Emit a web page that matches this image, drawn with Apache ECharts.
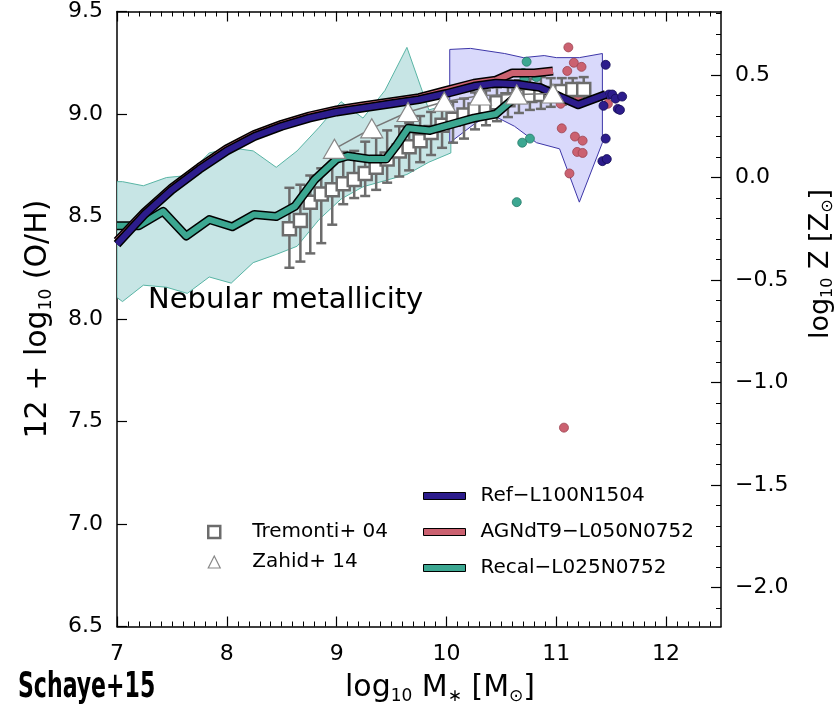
<!DOCTYPE html>
<html>
<head>
<meta charset="utf-8">
<script src="https://cdn.jsdelivr.net/npm/echarts@6/dist/echarts.min.js"></script>
<style>
  html, body { margin: 0; padding: 0; background: #fff; }
  #chart { width: 840px; height: 712px; }
</style>
</head>
<body>
<div id="chart"></div>
<script>
// solar oxygen abundance, links the two y axes
const zSun = 8.69;

// Ref-L100N1504 median
const refMass = [7.0, 7.25, 7.5, 7.75, 8.0, 8.25, 8.5, 8.75, 9.0, 9.25, 9.5, 9.75, 10.0, 10.25, 10.45, 10.65, 10.85, 11.05, 11.2, 11.45];
const refOH = [8.365, 8.51, 8.63, 8.73, 8.82, 8.89, 8.94, 8.98, 9.01, 9.03, 9.05, 9.07, 9.10, 9.135, 9.15, 9.145, 9.13, 9.08, 9.045, 9.095];

// AGNdT9-L050N0752 median
const agnMass = [7.0, 7.25, 7.5, 7.75, 8.0, 8.25, 8.5, 8.75, 9.0, 9.25, 9.5, 9.75, 10.0, 10.25, 10.45, 10.6, 10.8, 10.97];
const agnOH = [8.38, 8.52, 8.64, 8.74, 8.83, 8.90, 8.95, 8.99, 9.02, 9.04, 9.06, 9.08, 9.115, 9.15, 9.165, 9.20, 9.20, 9.21];

// Recal-L025N0752 median
const recalMass = [7.0, 7.2, 7.42, 7.63, 7.84, 8.05, 8.25, 8.45, 8.62, 8.8, 9.0, 9.1, 9.3, 9.45, 9.55, 9.65, 9.85, 10.05, 10.25, 10.45, 10.58, 10.67];
const recalOH = [8.455, 8.455, 8.525, 8.405, 8.485, 8.45, 8.51, 8.50, 8.55, 8.68, 8.78, 8.795, 8.78, 8.78, 8.85, 8.93, 8.92, 8.95, 8.98, 9.0, 9.06, 9.10];

// Recal scatter band
const recalBandMass = [7.0, 7.05, 7.24, 7.45, 7.64, 7.84, 8.04, 8.24, 8.45, 8.64, 8.84, 9.04, 9.24, 9.44, 9.64, 9.84, 10.04];
const recalBandHi = [8.67, 8.67, 8.65, 8.69, 8.70, 8.81, 8.835, 8.82, 8.74, 8.82, 8.935, 9.06, 8.98, 9.115, 9.325, 9.02, 9.05];
const recalBandLo = [8.105, 8.085, 8.165, 8.155, 8.125, 8.205, 8.175, 8.275, 8.315, 8.355, 8.485, 8.585, 8.645, 8.675, 8.705, 8.765, 8.81];

// Ref scatter band
const refBandHiMass = [10.03, 10.22, 10.53, 10.7, 10.89, 11.0, 11.21, 11.42];
const refBandHi = [9.315, 9.32, 9.295, 9.275, 9.285, 9.275, 9.275, 9.295];
const refBandLoMass = [10.03, 10.25, 10.4, 10.62, 10.82, 11.03, 11.21, 11.42];
const refBandLo = [8.86, 8.95, 9.0, 8.94, 8.86, 8.83, 8.57, 8.86];

// individual galaxies in the poorly sampled bins
const recalDotMass = [10.73, 10.70, 10.71, 10.82, 10.76, 10.69, 10.64];
const recalDotOH = [9.255, 9.20, 9.175, 9.18, 8.88, 8.86, 8.57];
const agnDotMass = [11.11, 11.16, 11.23, 11.10, 11.05, 11.17, 11.24, 11.19, 11.24, 11.12, 11.04, 11.47, 11.20, 11.07];
const agnDotOH = [9.325, 9.25, 9.23, 9.21, 8.93, 8.89, 8.87, 8.815, 8.81, 8.71, 9.05, 9.05, 9.09, 7.47];
const refDotMass = [11.45, 11.48, 11.51, 11.54, 11.60, 11.43, 11.56, 11.58, 11.45, 11.42, 11.46];
const refDotOH = [9.24, 9.095, 9.095, 9.075, 9.085, 9.04, 9.025, 9.02, 8.88, 8.77, 8.78];

// Tremonti+04
const troMass = [8.57, 8.67, 8.76, 8.86, 8.96, 9.06, 9.16, 9.26, 9.36, 9.46, 9.57, 9.66, 9.76, 9.86, 9.96, 10.06, 10.16, 10.26, 10.36, 10.46, 10.56, 10.66, 10.76, 10.86, 10.95, 11.05, 11.15, 11.25];
const troOH = [8.44, 8.48, 8.57, 8.61, 8.63, 8.66, 8.68, 8.71, 8.74, 8.78, 8.82, 8.84, 8.87, 8.91, 8.945, 8.975, 8.995, 9.02, 9.035, 9.055, 9.07, 9.085, 9.09, 9.095, 9.10, 9.11, 9.12, 9.12];
const troHi = [8.64, 8.655, 8.70, 8.735, 8.76, 8.815, 8.82, 8.865, 8.885, 8.92, 8.94, 8.955, 8.99, 9.01, 9.035, 9.06, 9.075, 9.105, 9.115, 9.13, 9.14, 9.165, 9.17, 9.18, 9.175, 9.175, 9.175, 9.18];
const troLo = [8.25, 8.28, 8.32, 8.37, 8.46, 8.56, 8.59, 8.60, 8.63, 8.665, 8.695, 8.725, 8.765, 8.80, 8.835, 8.86, 8.88, 8.925, 8.945, 8.965, 8.985, 9.005, 9.02, 9.025, 9.035, 9.045, 9.055, 9.06];

// Zahid+14
const zahMass = [8.98, 9.32, 9.65, 9.98, 10.31, 10.64, 10.97];
const zahOH = [8.83, 8.93, 9.01, 9.06, 9.09, 9.095, 9.10];

// tick labels
const massTicks = [7, 8, 9, 10, 11, 12];
const zTicks = [-2.0, -1.5, -1.0, -0.5, 0.0, 0.5];

const REF = 'Ref\u2212L100N1504';
const AGN = 'AGNdT9\u2212L050N0752';
const RECAL = 'Recal\u2212L025N0752';
const TRO = 'Tremonti+ 04';
const ZAH = 'Zahid+ 14';

const refColor = '#2c1c8c';
const agnColor = '#cb6170';
const recalColor = '#3ca791';
const obsGray = '#6c6c6c';
const FONT = "'DejaVu Sans', sans-serif";

// minor tick positions (0.1 dex)
const massMinor = [];
for (let i = 71; i < 125; i++) if (i % 10 !== 0) massMinor.push(i / 10);
const zMinor = [];
for (let i = -22; i <= 8; i++) if (i % 5 !== 0) zMinor.push(i / 10);

const pairs = (xs, ys) => xs.map((x, i) => [x, ys[i]]);

function band(name, hiX, hi, loX, lo, fill, edge) {
  return {
    type: 'custom', name, silent: true, clip: true,
    data: pairs(hiX, hi),
    renderItem: (params, api) => {
      if (params.dataIndex !== 0) return;
      const pts = [];
      for (let i = 0; i < hiX.length; i++) pts.push(api.coord([hiX[i], hi[i]]));
      for (let i = loX.length - 1; i >= 0; i--) pts.push(api.coord([loX[i], lo[i]]));
      return { type: 'polygon', shape: { points: pts }, style: { fill, stroke: edge, lineWidth: 1 } };
    }
  };
}

function modelLine(name, xs, ys, color, width) {
  return {
    type: 'line', name, data: pairs(xs, ys), symbol: 'none', silent: true,
    lineStyle: { color, width, join: 'round' }, itemStyle: { color }
  };
}

function dots(name, xs, ys, color, edge) {
  return {
    type: 'scatter', name, data: pairs(xs, ys), symbolSize: 9, silent: true,
    itemStyle: { color, borderColor: edge, borderWidth: 0.8, opacity: 1 }
  };
}

const chart = echarts.init(document.getElementById('chart'));

const frame = { show: true, onZero: false, lineStyle: { color: '#000', width: 1.5 } };
const noLine = { show: false, onZero: false };

const titleStyle = (size, pad) => ({
  fontSize: size, fontFamily: FONT, color: '#000', lineHeight: size + 4, padding: pad,
  rich: {
    s: { fontSize: Math.round(size * 0.58), fontFamily: FONT, color: '#000', lineHeight: 16, verticalAlign: 'bottom' }
  }
});

function massAxis(pos, labels) {
  return [{
    type: 'value', position: pos, min: 7, max: 12.5, interval: 1,
    axisLine: frame,
    axisTick: { inside: true, length: 10, customValues: massTicks, lineStyle: { color: '#000', width: 1.2 } },
    axisLabel: labels ? {
      show: true, customValues: massTicks, margin: 17, fontSize: 22, fontFamily: FONT, color: '#000'
    } : { show: false },
    splitLine: { show: false },
    name: labels ? 'log{s|10} M{s|\u2217} [M{s|\u2299}]' : '',
    nameLocation: 'middle', nameGap: 45,
    nameTextStyle: titleStyle(30, [0, 0, 0, 42])
  }, {
    type: 'value', position: pos, min: 7, max: 12.5,
    axisLine: noLine,
    axisTick: { inside: true, length: 5, customValues: massMinor, lineStyle: { color: '#000', width: 1 } },
    axisLabel: { show: false },
    splitLine: { show: false }
  }];
}

const option = {
  animation: false,
  backgroundColor: '#fff',
  grid: { left: 117, right: 119, top: 11.5, bottom: 85.5, outerBoundsMode: 'none' },
  xAxis: [...massAxis('bottom', true), ...massAxis('top', false)],
  yAxis: [{
    type: 'value', position: 'left', min: 6.5, max: 9.5, interval: 0.5,
    axisLine: frame,
    axisTick: { inside: true, length: 10, lineStyle: { color: '#000', width: 1.2 } },
    axisLabel: { margin: 14, fontSize: 22, fontFamily: FONT, color: '#000', formatter: v => v.toFixed(1) },
    splitLine: { show: false },
    name: '12 + log{s|10} (O/H)',
    nameLocation: 'middle', nameRotate: 90, nameGap: 62,
    nameTextStyle: titleStyle(30, 0)
  }, {
    type: 'value', position: 'right', min: 6.5 - zSun, max: 9.5 - zSun,
    axisLine: frame,
    axisTick: { inside: true, length: 10, customValues: zTicks, lineStyle: { color: '#000', width: 1.2 } },
    axisLabel: {
      customValues: zTicks, margin: 14, fontSize: 22, fontFamily: FONT, color: '#000',
      formatter: v => (v < -1e-9 ? '\u2212' : '') + Math.abs(v).toFixed(1)
    },
    splitLine: { show: false },
    name: 'log{s|10} Z [Z{s|\u2299}]',
    nameLocation: 'middle', nameRotate: 90, nameGap: 84,
    nameTextStyle: titleStyle(27, [0, 0, 0, 110])
  }, {
    type: 'value', position: 'right', min: 6.5 - zSun, max: 9.5 - zSun,
    axisLine: noLine,
    axisTick: { inside: true, length: 5, customValues: zMinor, lineStyle: { color: '#000', width: 1 } },
    axisLabel: { show: false },
    splitLine: { show: false }
  }],
  legend: [{
    orient: 'vertical', left: 423, top: 485, padding: 0, itemWidth: 42, itemHeight: 7, itemGap: 14,
    icon: 'rect', selectedMode: false,
    formatter: n => '{t|' + n + '}',
    textStyle: { fontSize: 20, fontFamily: FONT, color: '#000', lineHeight: 22,
      rich: { t: { fontSize: 20, fontFamily: FONT, color: '#000', padding: [0, 0, 0, 10] } } },
    data: [
      { name: REF, itemStyle: { color: refColor, borderColor: '#000', borderWidth: 1 } },
      { name: AGN, itemStyle: { color: agnColor, borderColor: '#000', borderWidth: 1 } },
      { name: RECAL, itemStyle: { color: recalColor, borderColor: '#000', borderWidth: 1 } }
    ]
  }, {
    orient: 'vertical', left: 207, top: 521, padding: 0, itemWidth: 12, itemHeight: 12, itemGap: 8,
    selectedMode: false,
    formatter: n => '{t|' + n + '}',
    textStyle: { fontSize: 20, fontFamily: FONT, color: '#000', lineHeight: 22,
      rich: { t: { fontSize: 20, fontFamily: FONT, color: '#000', padding: [0, 0, 0, 27] } } },
    data: [
      { name: TRO, icon: 'rect', itemStyle: { color: '#fff', borderColor: obsGray, borderWidth: 2.5 } },
      { name: ZAH, icon: 'triangle', itemStyle: { color: '#fff', borderColor: '#888', borderWidth: 1.2 } }
    ]
  }],
  graphic: [
    { type: 'text', x: 148, y: 286, silent: true,
      style: { text: 'Nebular metallicity', fontSize: 29, fontFamily: "'Comic Sans MS', " + FONT, fill: '#000', verticalAlign: 'top' } },
    { type: 'text', x: 18, y: 670, scaleX: 0.7, silent: true,
      style: { text: 'Schaye+15', fontSize: 35, fontWeight: 'bold', verticalAlign: 'top',
        fontFamily: "'Comic Sans MS', 'DejaVu Sans Condensed', sans-serif", fill: '#000' } }
  ],
  series: [
    band('Recal band', recalBandMass, recalBandHi, recalBandMass, recalBandLo, '#c7e5e5', '#58b4a4'),
    band('Ref band', refBandHiMass, refBandHi, refBandLoMass, refBandLo, '#d9d9fb', '#3d36a8'),
    modelLine('recal edge', recalMass, recalOH, '#000', 9),
    modelLine(RECAL, recalMass, recalOH, recalColor, 6),
    modelLine('agn edge', agnMass, agnOH, '#000', 9),
    modelLine(AGN, agnMass, agnOH, agnColor, 6),
    dots('recal dots', recalDotMass, recalDotOH, recalColor, '#267a68'),
    dots('agn dots', agnDotMass, agnDotOH, agnColor, '#9c4250'),
    modelLine('ref edge', refMass, refOH, '#000', 9),
    modelLine(REF, refMass, refOH, refColor, 6),
    dots('ref dots', refDotMass, refDotOH, refColor, '#140c55'),
    {
      type: 'custom', name: 'Tremonti bars', silent: true,
      data: troMass.map((x, i) => [x, troLo[i], troHi[i]]),
      encode: { x: 0, y: [1, 2] },
      renderItem: (params, api) => {
        const x = api.value(0);
        const lo = api.coord([x, api.value(1)]);
        const hi = api.coord([x, api.value(2)]);
        const st = { stroke: obsGray, lineWidth: 2.5 };
        return { type: 'group', children: [
          { type: 'line', shape: { x1: lo[0], y1: lo[1], x2: hi[0], y2: hi[1] }, style: st },
          { type: 'line', shape: { x1: lo[0] - 5, y1: lo[1], x2: lo[0] + 5, y2: lo[1] }, style: st },
          { type: 'line', shape: { x1: hi[0] - 5, y1: hi[1], x2: hi[0] + 5, y2: hi[1] }, style: st }
        ] };
      }
    },
    {
      type: 'scatter', name: TRO, data: pairs(troMass, troOH), symbol: 'rect', symbolSize: 13, silent: true,
      itemStyle: { color: '#fff', borderColor: obsGray, borderWidth: 2.5, opacity: 1 }
    },
    {
      type: 'line', name: ZAH, data: pairs(zahMass, zahOH), symbol: 'triangle', symbolSize: [22, 19],
      showAllSymbol: true, silent: true,
      lineStyle: { color: '#777', width: 1.5 },
      itemStyle: { color: '#fff', borderColor: '#888', borderWidth: 1.2, opacity: 1 }
    }
  ]
};

chart.setOption(option);
</script>
</body>
</html>
